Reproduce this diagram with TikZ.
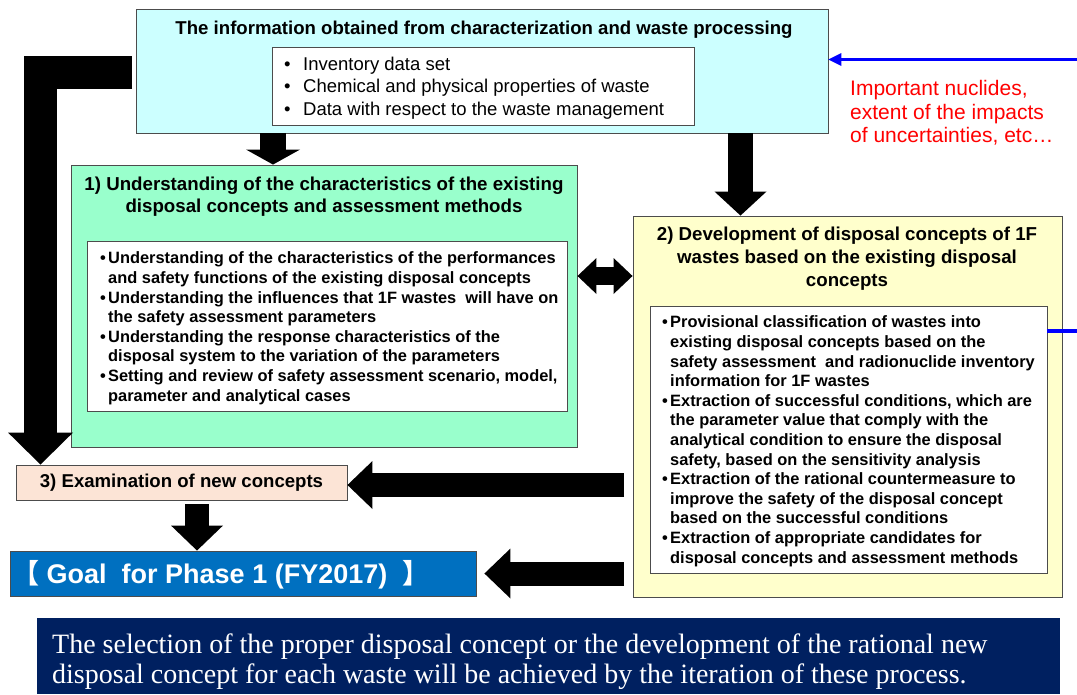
\documentclass[tikz,border=0pt]{standalone}
\usepackage{fontspec}
\setmainfont{Liberation Sans}
\newfontfamily\timesfont{Liberation Serif}
\newfontfamily\cjkfont{Noto Sans CJK SC}
\usetikzlibrary{arrows.meta}
\definecolor{infobg}{HTML}{CCFFFF}
\definecolor{existbg}{HTML}{99FFCC}
\definecolor{developbg}{HTML}{FFFFCC}
\definecolor{newconbg}{HTML}{FCE4D6}
\definecolor{goalbg}{HTML}{0070C0}
\definecolor{summarybg}{HTML}{002060}
\definecolor{feedback}{HTML}{0000FF}
\definecolor{notered}{HTML}{FF0000}
\newcommand{\itm}[1]{\makebox[#1][l]{\textbullet}}

\tikzset{
  panel/.style={draw=black!70, line width=0.9pt, inner sep=0pt},
  boxtitle/.style={font=\fontsize{18.7}{22.5}\selectfont\bfseries, align=center, inner sep=0pt, anchor=base},
  bullets/.style={font=\fontsize{16.4}{19.6}\selectfont\bfseries, align=left, inner sep=0pt, anchor=base west},
  blockarrow/.style n args={3}{line width=#1, line join=miter, -{Triangle[length=#2, width=#3, line width=0pt]}},
}

\begin{document}
\begin{tikzpicture}[x=1pt, y=-1pt]
    \useasboundingbox (0,0) rectangle (1077,694);

    % 上方：特性评价与废物处理得到的信息
    \node[panel, fill=infobg, minimum width=692pt, minimum height=124pt] (info) at (482,71) {};
    \node[boxtitle, font=\fontsize{18.6}{22}\selectfont\bfseries] (infohead) at (484,34) {The information obtained from characterization and waste processing};
    \node[panel, fill=white, minimum width=422pt, minimum height=78pt] (infolist) at (483,86) {};
    % 多行节点的 base 取最后一行
    \node[inner sep=0pt, anchor=base west, align=left, font=\fontsize{18.5}{22.5}\selectfont] (infotext) at (284,115)
        {\itm{19pt}Inventory data set\\ \itm{19pt}Chemical and physical properties of waste\\ \itm{19pt}Data with respect to the waste management};

    % 右上红字
    \node[inner sep=0pt, anchor=base west, align=left, text=notered, font=\fontsize{21}{23.5}\selectfont] (note) at (850,142.5)
        {Important nuclides,\\extent of the impacts\\of uncertainties, etc…};

    % 1) 绿色框
    \node[panel, fill=existbg, minimum width=506pt, minimum height=282pt] (exist) at (324,306) {};
    \node[boxtitle, font=\fontsize{18.7}{22}\selectfont\bfseries] (existhead) at (324,212)
        {1) Understanding of the characteristics of the existing\\disposal concepts and assessment methods};
    \node[panel, fill=white, minimum width=480pt, minimum height=170pt] (existlist) at (327,326) {};
    \node[bullets] (existtext) at (100,401)
        {\itm{8pt}Understanding of the characteristics of the performances\\
         \hspace*{8pt}and safety functions of the existing disposal concepts\\
         \itm{8pt}Understanding the influences that 1F wastes\ \ will have on\\
         \hspace*{8pt}the safety assessment parameters\\
         \itm{8pt}Understanding the response characteristics of the\\
         \hspace*{8pt}disposal system to the variation of the parameters\\
         \itm{8pt}Setting and review of safety assessment scenario, model,\\
         \hspace*{8pt}parameter and analytical cases};

    % 2) 黄色框
    \node[panel, fill=developbg, minimum width=429pt, minimum height=381pt] (develop) at (847.5,406.5) {};
    \node[boxtitle, font=\fontsize{18.7}{23}\selectfont\bfseries] (develophead) at (847,286)
        {2) Development of disposal concepts of 1F\\wastes based on the existing disposal\\concepts};
    \node[panel, fill=white, minimum width=397pt, minimum height=267pt] (devlist) at (848.5,439.5) {};
    \node[bullets] (devtext) at (662,563)
        {\itm{8pt}Provisional classification of wastes into\\
         \hspace*{8pt}existing disposal concepts based on the\\
         \hspace*{8pt}safety assessment\ \ and radionuclide inventory\\
         \hspace*{8pt}information for 1F wastes\\
         \itm{8pt}Extraction of successful conditions, which are\\
         \hspace*{8pt}the parameter value that comply with the\\
         \hspace*{8pt}analytical condition to ensure the disposal\\
         \hspace*{8pt}safety, based on the sensitivity analysis\\
         \itm{8pt}Extraction of the rational countermeasure to\\
         \hspace*{8pt}improve the safety of the disposal concept\\
         \hspace*{8pt}based on the successful conditions\\
         \itm{8pt}Extraction of appropriate candidates for\\
         \hspace*{8pt}disposal concepts and assessment methods};

    % 3) 新概念 与 目标
    \node[panel, fill=newconbg, minimum width=331pt, minimum height=35pt, font=\fontsize{18.6}{22}\selectfont\bfseries] (newcon) at (181.5,482.5) {3) Examination of new concepts};
    \node[panel, fill=goalbg, minimum width=466pt, minimum height=45pt] (goal) at (243,573.5) {};
    \node[inner sep=0pt, anchor=base west, text=white, font=\fontsize{27}{30}\selectfont\bfseries] (goaltext) at (12,583)
        {{\cjkfont 【}\ Goal\ \ for Phase 1 (FY2017)\ \ {\cjkfont 】}};

    % 下方深蓝说明
    \node[fill=summarybg, minimum width=1023pt, minimum height=76pt, inner sep=0pt] (summary) at (548.5,656) {};
    \node[inner sep=0pt, anchor=base west, align=left, text=white, font=\timesfont\fontsize{28}{30}\selectfont] (summarytext) at (52,683)
        {The selection of the proper disposal concept or the development of the rational new\\disposal concept for each waste will be achieved by the iteration of these process.};

    % 粗箭头
    \coordinate (lstart) at (132,72.5);
    \coordinate (lbend) at (40.5,72.5);
    \coordinate (exitup) at (624,485);
    \coordinate (exitlow) at (624,573.5);
    \coordinate (midtop) at (197,504);
    \draw[blockarrow={26pt}{15pt}{54pt}] (info.south -| 273,0) -- (exist.north -| 273,0);
    \draw[blockarrow={25pt}{24pt}{52pt}] (info.south -| 740.5,0) -- (develop.north -| 740.5,0);
    \draw[line width=18pt, {Triangle[length=19pt, width=36pt, line width=0pt]}-{Triangle[length=19pt, width=36pt, line width=0pt]}] (exist.east |- 0,276) -- (develop.west |- 0,276);
    \draw[blockarrow={33pt}{32pt}{65pt}] (lstart) -- (lbend) -- (newcon.north -| lbend);
    \draw[blockarrow={24pt}{25pt}{48pt}] (exitup) -- (newcon.east |- exitup);
    \draw[blockarrow={24pt}{26pt}{50pt}] (exitlow) -- ([xshift=8pt]goal.east);
    \draw[blockarrow={24pt}{25pt}{52pt}] (midtop) -- (goal.north -| midtop);

    % 蓝色反馈线
    \coordinate (rimtop) at (1077,59.5);
    \coordinate (rimlow) at (1077,331);
    \draw[feedback, line width=3.2pt, -{Triangle[length=13pt, width=13pt, line width=0pt]}] (rimtop) -- (info.east |- rimtop);
    \draw[feedback, line width=3.2pt] (devlist.east |- rimlow) -- (rimlow);
\end{tikzpicture}
\end{document}
